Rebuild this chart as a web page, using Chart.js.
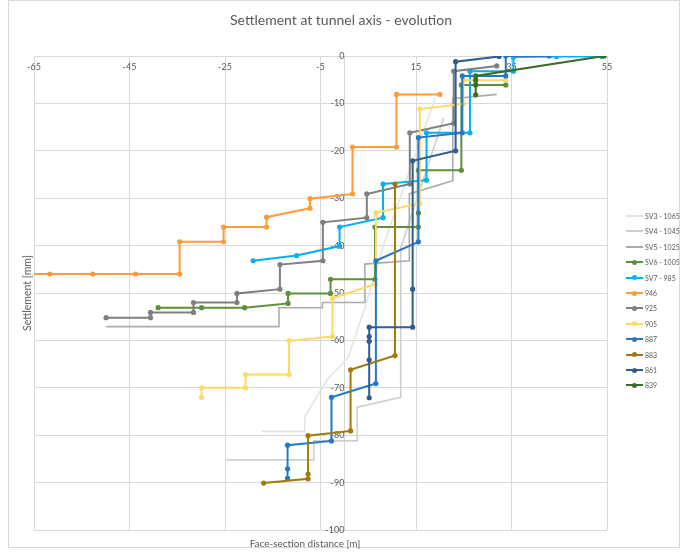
<!DOCTYPE html>
<html><head><meta charset="utf-8">
<script src="https://cdn.jsdelivr.net/npm/chart.js@4.4.1/dist/chart.umd.min.js"></script>
<style>
html,body{margin:0;padding:0;background:#fff;}
#wrap{position:relative;width:682px;height:553px;overflow:hidden;font-family:Lato,'Open Sans',sans-serif;color:#595959;}
#frame{position:absolute;left:8px;top:0px;width:672px;height:548px;border:1px solid #D9D9D9;box-sizing:border-box;}
#c{position:absolute;left:0;top:0;}
#title{position:absolute;left:0;width:682px;top:11px;text-align:center;font-size:14px;line-height:17px;}
#ytitle{position:absolute;left:27px;top:293px;transform:translate(-50%,-50%) rotate(-90deg);font-size:10.5px;white-space:nowrap;}
#xtitle{position:absolute;left:305px;top:543px;transform:translate(-50%,-50%);font-size:10px;white-space:nowrap;}
#legend{position:absolute;left:626px;top:0;width:60px;height:553px;}
.li{position:absolute;left:0;width:60px;height:10px;white-space:nowrap;font-size:8px;line-height:10px;}
.sw{position:absolute;left:0;top:4px;width:17px;height:2px;}
.dot{position:absolute;left:6px;top:2.5px;width:5px;height:5px;border-radius:50%;}
.lt{position:absolute;left:19px;top:0;display:inline-block;transform:scaleX(0.87);transform-origin:0 50%;}
</style></head>
<body>
<div id="wrap">
<div id="frame"></div>
<canvas id="c" width="682" height="553"></canvas>
<div id="title">Settlement at tunnel axis - evolution</div>
<div id="ytitle">Settlement [mm]</div>
<div id="xtitle">Face-section distance [m]</div>
<div id="legend"></div>
</div>
<script>
const seriesNames = ['SV3 - 1065','SV4 - 1045','SV5 - 1025','SV6 - 1005','SV7 - 985','946','925','905','887','883','861','839'];
const xTickValues = [-65,-45,-25,-5,15,35,55];

const sv3X = [-17.4,-8.3,-8.3,-3.7,0.8,4.5,8.5,19.0];
const sv3Y = [-79.2,-79.2,-76.1,-68.4,-63.6,-52.5,-39.0,-8.9];
const sv4X = [-24.7,-6.4,-6.4,2.7,2.7,11.8,11.8,20.8];
const sv4Y = [-85.2,-85.2,-81.2,-81.2,-74.1,-72.0,-40.5,-13.1];
const sv5X = [31.9,22.7,22.7,13.6,13.6,4.3,4.3,-4.6,-4.6,-13.7,-13.7,-49.9];
const sv5Y = [-8.1,-9.0,-26.3,-29.1,-43.2,-43.9,-52.0,-52.0,-53.1,-53.1,-57.1,-57.1];
const sv6X = [33.8,24.5,24.5,15.5,15.5,15.5,6.4,6.4,-2.9,-2.9,-11.8,-11.8,-20.9,-29.9,-39.0];
const sv6Y = [-6.1,-6.1,-24.1,-24.1,-33.1,-36.1,-36.1,-47.1,-47.1,-50.1,-50.1,-52.2,-53.1,-53.1,-53.1];
const sv7X = [53.9,44.4,35.4,35.4,26.3,26.3,17.2,17.2,8.1,8.1,-1.0,-1.0,-10.0,-19.1];
const sv7Y = [-0.1,-0.1,-0.2,-3.2,-3.2,-16.2,-16.2,-26.2,-27.0,-34.1,-36.1,-40.1,-42.1,-43.2];
const s946X = [-67,-61.7,-52.7,-43.7,-34.5,-34.5,-25.3,-25.3,-16.3,-16.3,-7.2,-7.2,1.7,1.7,10.9,10.9,20.0];
const s946Y = [-46,-46,-46,-46,-46,-39.2,-39.2,-36.1,-36.1,-34.0,-32.1,-30.1,-29.1,-19.2,-19.2,-8.1,-8.1];
const s925X = [31.9,22.9,22.9,13.7,13.7,4.7,4.7,-4.5,-4.5,-13.5,-13.5,-22.5,-22.5,-31.6,-31.6,-40.6,-40.6,-49.9];
const s925Y = [-2.1,-3.2,-14.2,-16.2,-27.0,-29.1,-34.1,-35.1,-43.2,-44.0,-49.2,-50.1,-52.0,-52.0,-54.1,-54.1,-55.2,-55.2];
const s905X = [33.8,24.9,24.9,15.8,15.8,6.6,6.6,-2.5,-2.5,-11.6,-11.6,-20.7,-20.7,-29.9,-29.9];
const s905Y = [-5.1,-5.1,-10.1,-11.2,-31.1,-33.1,-48.1,-51.1,-59.2,-60.1,-67.2,-67.2,-70.0,-70.0,-72.0];
const s887X = [42.9,33.8,33.8,24.7,24.7,15.5,15.5,6.6,6.6,-2.7,-2.7,-11.9,-11.9,-11.9];
const s887Y = [0,0,-4.2,-4.2,-16.2,-17.2,-39.2,-43.2,-69.1,-72.0,-81.2,-82.1,-87.1,-89.1];
const s883X = [10.6,10.6,1.3,1.3,-7.6,-7.6,-7.6,-16.9];
const s883Y = [-27.0,-63.2,-66.2,-79.1,-80.1,-88.2,-89.2,-90.1];
const s861X = [32.4,23.3,23.3,14.3,14.3,14.3,5.2,5.2,5.2,5.2,5.2];
const s861Y = [-0.1,-1.2,-20.0,-22.1,-49.2,-57.2,-57.2,-59.2,-60.2,-64.1,-72.1];
const s839X = [54.4,27.5,27.5,27.5,27.5];
const s839Y = [0,-4.2,-5.1,-6.1,-8.2];

const allX = [sv3X,sv4X,sv5X,sv6X,sv7X,s946X,s925X,s905X,s887X,s883X,s861X,s839X];
const allY = [sv3Y,sv4Y,sv5Y,sv6Y,sv7Y,s946Y,s925Y,s905Y,s887Y,s883Y,s861Y,s839Y];
const colors = ['#E4E4E4','#CFCFCF','#ABABAB','#5E8F3A','#00B0F0','#FF9B38','#7F7F7F','#FFD966','#2479C7','#9E7B0C','#2F5D91','#3E6B25'];
const markers = [false,false,false,true,true,true,true,true,true,true,true,true];

const datasets = seriesNames.map((name,i)=>({
  label: name,
  data: allX[i].map((x,j)=>({x:x,y:allY[i][j]})),
  showLine: true,
  borderColor: colors[i],
  backgroundColor: colors[i],
  borderWidth: markers[i] ? 2 : 1.6,
  pointRadius: markers[i] ? 2.6 : 0,
  pointHoverRadius: 0,
  pointBorderWidth: 0,
  tension: 0,
  order: 20 - i
}));

Chart.defaults.font.family = "Lato, 'Open Sans', sans-serif";
new Chart(document.getElementById('c'), {
  type: 'scatter',
  data: { datasets },
  options: {
    responsive: false,
    animation: false,
    events: [],
    layout: { padding: { left: 34, right: 75, top: 56, bottom: 23 } },
    plugins: { legend: { display: false }, title: { display: false }, tooltip: { enabled: false } },
    scales: {
      x: {
        type: 'linear', min: -65, max: 55,
        position: { y: 0 },
        afterBuildTicks: s => { s.ticks = xTickValues.map(v => ({ value: v })); },
        afterFit: s => { s.height = 0; },
        grid: { color: '#D9D9D9', lineWidth: 1, drawTicks: false },
        border: { display: true, color: '#D9D9D9' },
        ticks: { color: '#595959', font: { size: 9 }, padding: 6, autoSkip: false, maxRotation: 0 }
      },
      y: {
        type: 'linear', min: -100, max: 0,
        position: { x: 0 },
        afterFit: s => { s.width = 0; },
        grid: { color: '#D9D9D9', lineWidth: 1, drawTicks: false },
        border: { display: true, color: '#D9D9D9' },
        ticks: { color: '#595959', font: { size: 9 }, padding: 6, stepSize: 10, autoSkip: false }
      }
    }
  }
});

const lg = document.getElementById('legend');
seriesNames.forEach((name,i)=>{
  const d = document.createElement('div');
  d.className = 'li';
  d.style.top = (216 + i*15.4 - 5) + 'px';
  let h = '<div class="sw" style="background:'+colors[i]+'"></div>';
  if (markers[i]) h += '<div class="dot" style="background:'+colors[i]+'"></div>';
  d.innerHTML = '<div style="position:absolute;left:0;top:0;width:17px;height:10px">'+h+'</div><span class="lt">'+name+'</span>';
  lg.appendChild(d);
});
</script>
</body></html>
